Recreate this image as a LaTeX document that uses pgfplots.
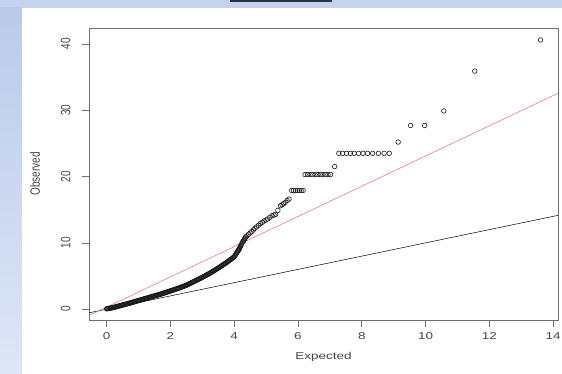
\documentclass[border=0pt]{standalone}
\usepackage{pgfplots}
\pgfplotsset{compat=1.18}
\usepackage{fontspec}
\setmainfont{Liberation Sans}
\definecolor{bgblue}{RGB}{197,212,238}
\definecolor{bgleftA}{RGB}{186,202,234}
\definecolor{bgleftB}{RGB}{222,230,246}
\definecolor{barnavy}{RGB}{40,50,75}
\definecolor{redline}{RGB}{232,128,128}
\definecolor{axgray}{RGB}{110,110,110}
\definecolor{txtgray}{RGB}{70,70,70}
\newcommand{\hs}[1]{\scalebox{1.35}[1]{#1}}
\newcommand{\vs}[1]{\scalebox{1}[1.35]{#1}}
\begin{document}
\begin{tikzpicture}[x=1pt,y=1pt]
\useasboundingbox (0,0) rectangle (562,374);
\fill[bgblue] (0,0) rectangle (562,374);
\shade[top color=bgleftA, bottom color=bgleftB] (0,0) rectangle (22,366);
\fill[white] (22,0) rectangle (562,366);
\fill[barnavy] (230,372) rectangle (332,374);
\begin{axis}[
  at={(89pt,54pt)}, anchor=south west,
  scale only axis, width=469pt, height=292pt,
  xmin=-0.55, xmax=14.15, ymin=-1.63, ymax=42.4,
  axis line style={axgray, line width=0.6pt},
  tick style={axgray, line width=0.6pt},
  tick align=outside, major tick length=7pt,
  xtick pos=bottom, ytick pos=left,
  xtick={0,2,4,6,8,10,12,14},
  xticklabels={\hs{0},\hs{2},\hs{4},\hs{6},\hs{8},\hs{10},\hs{12},\hs{14}},
  ytick={0,10,20,30,40},
  yticklabels={\vs{0},\vs{10},\vs{20},\vs{30},\vs{40}},
  xticklabel shift=2pt,
  yticklabel shift=8pt,
  xticklabel style={font=\fontsize{10}{12}\selectfont, text=txtgray},
  yticklabel style={font=\fontsize{10}{12}\selectfont, text=txtgray, rotate=90, anchor=south},
  xlabel={\hs{Expected}}, ylabel={\vs{Observed}},
  xlabel style={font=\fontsize{10}{12}\selectfont, text=txtgray, at={(axis description cs:0.5,-0.1267)}, anchor=center},
  ylabel style={font=\fontsize{10}{12}\selectfont, text=txtgray, at={(axis description cs:-0.1151,0.5)}, anchor=center},
  clip=true,
]
\addplot[black, line width=0.5pt] coordinates {(-0.55,-0.55) (14.15,14.15)};
\addplot[redline, line width=0.6pt] coordinates {(-0.55,-0.95) (14.15,32.56)};
\addplot[only marks, mark=o, mark size=2.3pt, mark options={line width=0.6pt, draw=black!90}] coordinates {
(0.00,0.05)(0.05,0.10)(0.10,0.15)(0.15,0.19)(0.20,0.24)(0.25,0.30)(0.30,0.36)(0.35,0.43)(0.40,0.49)(0.45,0.56)
(0.50,0.62)(0.55,0.69)(0.60,0.75)(0.65,0.82)(0.70,0.88)(0.75,0.95)(0.80,1.02)(0.85,1.09)(0.90,1.16)(0.95,1.23)
(1.00,1.30)(1.05,1.37)(1.10,1.44)(1.15,1.51)(1.20,1.58)(1.25,1.65)(1.30,1.72)(1.35,1.79)(1.40,1.86)(1.45,1.93)
(1.50,2.00)(1.55,2.07)(1.60,2.14)(1.65,2.21)(1.70,2.28)(1.75,2.35)(1.80,2.43)(1.85,2.51)(1.90,2.59)(1.95,2.67)
(2.00,2.75)(2.05,2.83)(2.10,2.91)(2.15,2.99)(2.20,3.07)(2.25,3.15)(2.30,3.24)(2.35,3.33)(2.40,3.42)(2.45,3.51)
(2.50,3.60)(2.55,3.72)(2.60,3.84)(2.65,3.96)(2.70,4.08)(2.75,4.20)(2.80,4.32)(2.85,4.44)(2.90,4.56)(2.95,4.68)
(3.00,4.80)(3.05,4.93)(3.10,5.06)(3.15,5.19)(3.20,5.32)(3.25,5.45)(3.30,5.60)(3.35,5.75)(3.40,5.90)(3.45,6.05)
(3.50,6.20)(3.55,6.36)(3.60,6.52)(3.65,6.68)(3.70,6.84)(3.75,7.00)(3.80,7.18)(3.85,7.36)(3.90,7.54)(3.95,7.72)
(4.00,7.90)(4.04,8.20)(4.08,8.50)(4.12,8.80)(4.15,9.00)(4.18,9.30)(4.21,9.60)(4.25,10.00)(4.29,10.30)(4.33,10.60)
(4.36,10.90)(4.40,11.05)(4.45,11.30)(4.50,11.50)(4.55,11.70)(4.60,11.95)(4.65,12.20)(4.70,12.40)(4.76,12.65)(4.82,12.90)
(4.88,13.10)(4.94,13.30)(5.00,13.45)(5.05,13.60)(5.12,13.85)(5.19,14.10)(5.25,14.20)(5.30,14.30)(5.37,14.90)(5.45,15.60)
(5.50,15.75)(5.55,15.90)(5.60,16.10)(5.66,16.40)(5.72,16.60)(5.80,17.90)(5.86,17.90)(5.92,17.90)(5.98,17.90)(6.04,17.90)
(6.10,17.90)(6.16,17.90)
(6.22,20.3)(6.30,20.3)(6.38,20.3)(6.46,20.3)(6.54,20.3)(6.62,20.3)(6.70,20.3)(6.78,20.3)(6.86,20.3)(6.94,20.3)(7.02,20.3)
(7.15,21.5)
(7.28,23.5)(7.40,23.5)(7.52,23.5)(7.64,23.5)(7.76,23.5)(7.90,23.5)(8.04,23.5)(8.18,23.5)(8.34,23.5)(8.52,23.5)(8.70,23.5)(8.86,23.5)
(9.14,25.2)(9.53,27.7)(9.97,27.7)(10.57,29.9)(11.54,35.9)(13.60,40.6)
(0.025,0.075)(0.075,0.125)(0.125,0.17)(0.175,0.215)(0.225,0.27)(0.275,0.33)(0.325,0.395)(0.375,0.46)(0.425,0.525)(0.475,0.59)
(0.525,0.655)(0.575,0.72)(0.625,0.785)(0.675,0.85)(0.725,0.915)(0.775,0.985)(0.825,1.055)(0.875,1.125)(0.925,1.195)(0.975,1.265)
(1.025,1.335)(1.075,1.405)(1.125,1.475)(1.175,1.545)(1.225,1.615)(1.275,1.685)(1.325,1.755)(1.375,1.825)(1.425,1.895)(1.475,1.965)
(1.525,2.035)(1.575,2.105)(1.625,2.175)(1.675,2.245)(1.725,2.315)(1.775,2.39)(1.825,2.47)(1.875,2.55)(1.925,2.63)(1.975,2.71)
(2.025,2.79)(2.075,2.87)(2.125,2.95)(2.175,3.03)(2.225,3.11)(2.275,3.195)(2.325,3.285)(2.375,3.375)(2.425,3.465)(2.475,3.555)
(2.525,3.66)(2.575,3.78)(2.625,3.90)(2.675,4.02)(2.725,4.14)(2.775,4.26)(2.825,4.38)(2.875,4.50)(2.925,4.62)(2.975,4.74)
(3.025,4.865)(3.075,4.995)(3.125,5.125)(3.175,5.255)(3.225,5.385)(3.275,5.525)(3.325,5.675)(3.375,5.825)(3.425,5.975)(3.475,6.125)
(3.525,6.28)(3.575,6.44)(3.625,6.60)(3.675,6.76)(3.725,6.92)(3.775,7.09)(3.825,7.27)(3.875,7.45)(3.925,7.63)(3.975,7.81)
(4.02,8.05)(4.06,8.35)(4.10,8.65)(4.135,8.9)(4.165,9.15)(4.195,9.45)(4.23,9.8)(4.27,10.15)(4.31,10.45)(4.345,10.75)
};
\end{axis}
\end{tikzpicture}
\end{document}
